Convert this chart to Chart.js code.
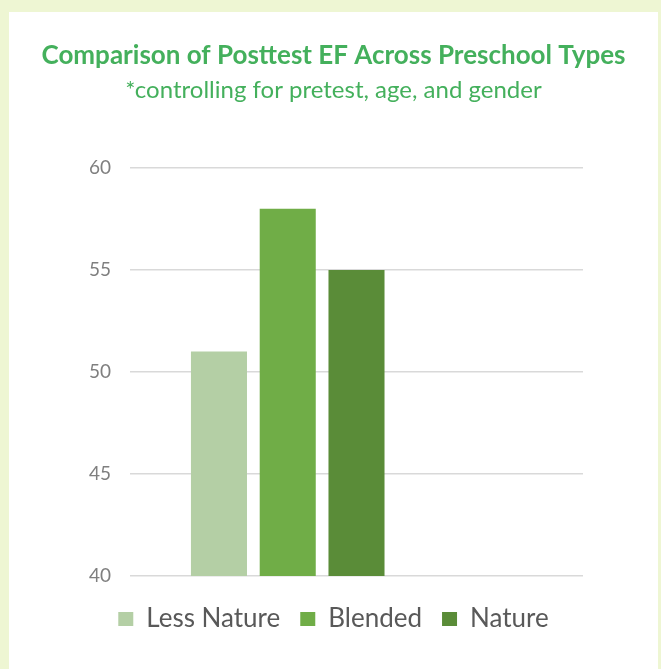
<!DOCTYPE html>
<html>
<head>
<meta charset="utf-8">
<script src="https://cdn.jsdelivr.net/npm/chart.js@4"></script>
<style>
  html, body { margin: 0; padding: 0; background: #fff; }
  #frame {
    position: relative;
    width: 661px;
    height: 669px;
    box-sizing: border-box;
    border-left: 9px solid #eef6d3;
    border-top: 12px solid #eef6d3;
    border-right: 3px solid #eef6d3;
    background: #fff;
  }
  #box { position: absolute; left: 0; top: 0; width: 649px; height: 657px; }
</style>
</head>
<body>
<div id="frame">
  <div id="box"><canvas id="chart"></canvas></div>
</div>
<script>
const categories = ['Posttest EF'];
const seriesNames = ['Less Nature', 'Blended', 'Nature'];
const seriesValues = [[51], [58], [55]];
const seriesColors = ['#b4cfa5', '#70ad47', '#5a8c38'];
const yTicks = [40, 45, 50, 55, 60];

// two empty slots after the real series so the group sits left of centre like the original
const spacerCount = 2;

function initChart() {
  const canvas = document.getElementById('chart');
  const font = 'Lato, "Open Sans", sans-serif';

  const datasets = seriesNames.map((name, i) => ({
    label: name,
    data: seriesValues[i],
    backgroundColor: seriesColors[i],
    borderWidth: 0
  }));
  for (let i = 0; i < spacerCount; i++) {
    datasets.push({ label: 'spacer', data: categories.map(() => null), backgroundColor: 'rgba(0,0,0,0)' });
  }

  const baseLabels = Chart.defaults.plugins.legend.labels.generateLabels;

  new Chart(canvas, {
    type: 'bar',
    data: { labels: categories, datasets: datasets },
    options: {
      responsive: true,
      maintainAspectRatio: false,
      animation: false,
      categoryPercentage: 0.759,
      barPercentage: 0.815,
      layout: { padding: { left: 0, right: 0, top: 0, bottom: 27 } },
      plugins: {
        title: {
          display: true,
          text: 'Comparison of Posttest EF Across Preschool Types',
          color: '#44b05c',
          font: { family: font, size: 26, weight: 'bold' },
          padding: { top: 28, bottom: 0 }
        },
        subtitle: {
          display: true,
          text: '*controlling for pretest, age, and gender',
          color: '#44b05c',
          font: { family: font, size: 24 },
          padding: { top: 5, bottom: 63 }
        },
        legend: {
          position: 'bottom',
          labels: {
            generateLabels: (chart) => baseLabels(chart).slice(0, seriesNames.length),
            color: '#595959',
            font: { family: font, size: 26 },
            boxWidth: 15,
            boxHeight: 14,
            padding: 20
          }
        },
        tooltip: { enabled: false }
      },
      scales: {
        x: {
          display: true,
          afterFit: (s) => { s.height = 10; },
          grid: { display: false },
          border: { display: false },
          ticks: { display: false }
        },
        y: {
          min: yTicks[0],
          max: yTicks[yTicks.length - 1],
          afterFit: (s) => { s.width = 121; },
          afterBuildTicks: (s) => { s.ticks = yTicks.map(v => ({ value: v })); },
          border: { display: false },
          grid: { color: '#d9d9d9', lineWidth: 1.5, drawTicks: false },
          ticks: {
            color: '#7f7f7f',
            padding: 19,
            font: { family: font, size: 19 }
          }
        },
        // empty right-hand axis that only keeps the blank margin on the right
        yRight: {
          position: 'right',
          display: true,
          afterFit: (s) => { s.width = 75; },
          grid: { display: false },
          border: { display: false },
          ticks: { display: false }
        }
      }
    }
  });
}

initChart();
</script>
</body>
</html>
